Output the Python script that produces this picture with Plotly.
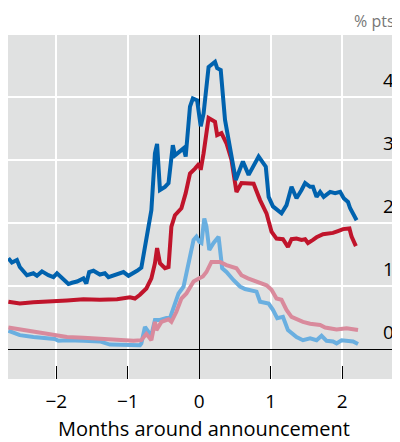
import plotly.graph_objects as go

# Dark blue series
db_x = [-2.67,-2.62,-2.55,-2.51,-2.41,-2.32,-2.27,-2.20,-2.11,-2.04,-1.99,-1.92,-1.83,-1.78,-1.71,-1.62,-1.58,-1.54,-1.48,-1.39,-1.32,-1.27,-1.18,-1.06,-0.99,-0.92,-0.87,-0.81,-0.74,-0.67,-0.62,-0.59,-0.55,-0.48,-0.43,-0.37,-0.34,-0.27,-0.22,-0.19,-0.16,-0.13,-0.09,-0.03,0.02,0.06,0.13,0.22,0.25,0.30,0.36,0.45,0.51,0.61,0.69,0.83,0.93,0.97,1.03,1.15,1.22,1.29,1.36,1.43,1.48,1.55,1.59,1.64,1.69,1.74,1.83,1.90,1.97,2.02,2.08,2.11,2.18,2.20]
db_y = [1.44,1.37,1.41,1.30,1.17,1.20,1.16,1.23,1.17,1.14,1.20,1.12,1.03,1.05,1.07,1.12,1.04,1.22,1.24,1.18,1.20,1.14,1.18,1.22,1.16,1.20,1.24,1.29,1.73,2.20,3.10,3.25,2.52,2.57,2.63,3.23,3.07,3.13,3.18,3.05,3.40,3.84,3.97,3.94,3.53,3.73,4.47,4.55,4.45,4.42,3.63,3.05,2.68,2.97,2.76,3.05,2.89,2.41,2.26,2.15,2.28,2.57,2.39,2.52,2.63,2.57,2.57,2.41,2.49,2.41,2.49,2.47,2.49,2.39,2.33,2.23,2.10,2.04]

# Red series
rd_x = [-2.67,-2.51,-2.32,-2.08,-1.85,-1.62,-1.39,-1.15,-0.97,-0.90,-0.83,-0.74,-0.67,-0.62,-0.59,-0.55,-0.48,-0.43,-0.39,-0.34,-0.25,-0.19,-0.13,-0.06,0.00,0.02,0.06,0.13,0.22,0.25,0.31,0.38,0.45,0.52,0.59,0.76,0.85,0.94,1.01,1.08,1.17,1.24,1.29,1.36,1.43,1.48,1.52,1.59,1.64,1.73,1.87,1.94,2.01,2.10,2.13,2.19]
rd_y = [0.75,0.72,0.74,0.75,0.77,0.79,0.78,0.79,0.82,0.80,0.86,0.96,1.12,1.36,1.60,1.36,1.28,1.30,1.94,2.12,2.23,2.47,2.78,2.86,2.94,2.84,3.10,3.66,3.60,3.39,3.42,3.26,3.00,2.49,2.63,2.62,2.36,2.15,1.86,1.75,1.74,1.62,1.74,1.75,1.73,1.74,1.68,1.73,1.77,1.82,1.84,1.87,1.90,1.91,1.78,1.63]

# Light blue series
lb_x = [-2.67,-2.51,-2.32,-2.18,-2.02,-1.97,-1.85,-1.62,-1.39,-1.25,-1.07,-0.92,-0.83,-0.81,-0.76,-0.71,-0.67,-0.62,-0.55,-0.46,-0.41,-0.34,-0.29,-0.22,-0.15,-0.08,-0.04,0.00,0.03,0.07,0.10,0.14,0.20,0.27,0.32,0.38,0.48,0.57,0.64,0.80,0.85,0.97,1.03,1.09,1.17,1.24,1.36,1.45,1.55,1.64,1.71,1.78,1.87,1.92,1.99,2.06,2.15,2.22]
lb_y = [0.29,0.22,0.19,0.17,0.16,0.13,0.14,0.13,0.12,0.07,0.07,0.07,0.06,0.09,0.35,0.27,0.22,0.46,0.46,0.49,0.49,0.72,0.88,0.99,1.36,1.73,1.78,1.70,1.68,2.07,1.94,1.57,1.68,1.78,1.28,1.22,1.09,0.99,0.95,0.91,0.75,0.72,0.62,0.49,0.51,0.30,0.19,0.14,0.17,0.14,0.21,0.13,0.12,0.09,0.14,0.13,0.12,0.08]

# Pink series
pk_x = [-2.67,-2.51,-2.32,-2.09,-1.85,-1.62,-1.39,-1.15,-0.92,-0.81,-0.74,-0.67,-0.62,-0.60,-0.53,-0.43,-0.39,-0.32,-0.25,-0.18,-0.08,0.00,0.05,0.10,0.17,0.29,0.38,0.52,0.59,0.68,0.80,0.94,1.01,1.08,1.15,1.22,1.29,1.45,1.55,1.69,1.76,1.92,2.06,2.22]
pk_y = [0.34,0.31,0.27,0.23,0.19,0.18,0.16,0.14,0.13,0.14,0.24,0.14,0.43,0.30,0.43,0.47,0.43,0.59,0.80,0.88,1.07,1.12,1.15,1.22,1.38,1.38,1.33,1.28,1.17,1.12,1.07,1.01,0.94,0.80,0.78,0.62,0.51,0.43,0.40,0.38,0.34,0.31,0.33,0.30]

x_ticks = [-2, -1, 0, 1, 2]
y_ticks = [0, 1, 2, 3, 4]

fig = go.Figure()
for xs, ys, col in [(lb_x, lb_y, "#6AAFE0"), (pk_x, pk_y, "#D98A9C"), (rd_x, rd_y, "#C0142B"), (db_x, db_y, "#0062AE")]:
    fig.add_trace(go.Scatter(x=xs, y=ys, mode="lines", line=dict(color=col, width=4), showlegend=False, hoverinfo="skip"))

font = "Open Sans"
annotations = [dict(text=str(v), xref="paper", yref="y", x=0.99, y=v, xanchor="right", yanchor="bottom",
                    yshift=2, showarrow=False, font=dict(size=19, color="black")) for v in y_ticks]
annotations.append(dict(text="% pts", xref="paper", yref="paper", x=0.993, y=1.0, xanchor="right", yanchor="bottom",
                        yshift=1, showarrow=False, font=dict(size=16, color="#777777")))

fig.update_layout(
    width=392, height=434,
    margin=dict(l=0, r=0, t=27, b=63, autoexpand=False),
    paper_bgcolor="white", plot_bgcolor="#E0E1E1",
    font=dict(family=font, size=19, color="black"),
    xaxis=dict(range=[-2.675, 2.807], tickvals=x_ticks, ticks="inside", ticklen=13, tickcolor="black", tickwidth=1.2,
               ticklabelstandoff=9,
               showgrid=True, gridcolor="white", gridwidth=1.5, zeroline=True, zerolinecolor="black", zerolinewidth=1.2,
               title=dict(text="Months around announcement", font=dict(size=20), standoff=13), showline=False,
               automargin=False, fixedrange=True),
    yaxis=dict(range=[-0.475, 4.976], tickvals=y_ticks, showticklabels=False, ticks="",
               showgrid=True, gridcolor="white", gridwidth=1.5, zeroline=True, zerolinecolor="black", zerolinewidth=1.2,
               showline=False, automargin=False, fixedrange=True),
    annotations=annotations,
)
fig.write_html("out.html")
